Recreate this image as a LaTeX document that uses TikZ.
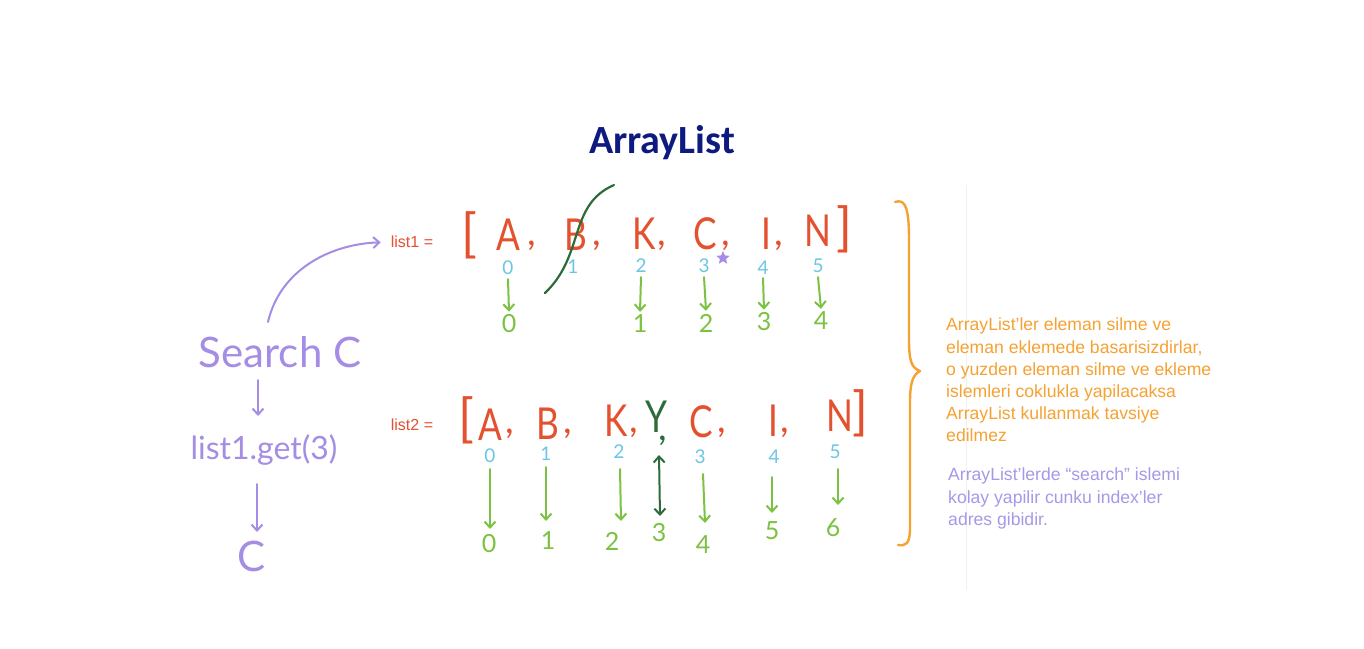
\documentclass[tikz,border=0pt]{standalone}
\usepackage{fontspec}
\setmainfont{Liberation Sans}
\newfontfamily\hand{Lato}
\newfontfamily\titlefont{Carlito}
\usetikzlibrary{arrows.meta,shapes.geometric}
\definecolor{hred}{HTML}{E4512F}
\definecolor{hblue}{HTML}{6DC6E3}
\definecolor{hgreen}{HTML}{7CC242}
\definecolor{hdgreen}{HTML}{2E6B3A}
\definecolor{hpurple}{HTML}{A58DE6}
\definecolor{horange}{HTML}{F5A233}
\definecolor{hnavy}{HTML}{0D1A80}
\definecolor{tpurple}{HTML}{A898E8}
\newcommand\nar[1]{\scalebox{0.8}[1]{#1}}
\tikzset{
  letter/.style={text=hred,font=\hand\fontsize{44}{44}\selectfont,inner sep=0pt},
  comma/.style={text=hred,font=\hand\fontsize{38}{38}\selectfont,inner sep=0pt},
  brack/.style={text=hred,font=\hand\fontsize{52}{52}\selectfont,inner sep=0pt},
  idx/.style={text=hblue,font=\hand\fontsize{19}{19}\selectfont,inner sep=0pt},
  gnum/.style={text=hgreen,font=\hand\fontsize{25}{25}\selectfont,inner sep=0pt},
  garrow/.style={draw=hgreen,line width=2pt,line cap=round,-{Straight Barb[length=6pt,width=11pt]}},
  parrow/.style={draw=hpurple,line width=2pt,line cap=round,-{Straight Barb[length=6pt,width=11pt]}},
  plab/.style={text=hpurple,font=\hand\fontsize{42}{42}\selectfont,inner sep=0pt},
  listlab/.style={text=hred,font=\fontsize{16}{16}\selectfont,inner sep=0pt},
}
\begin{document}
\begin{tikzpicture}[x=1pt,y=-1pt]
\useasboundingbox[fill=white] (0,0) rectangle (1364,648);
% faint line
\draw[color=black!6,line width=1pt] (966,185) -- (966,590);
% title
\node[text=hnavy,font=\titlefont\bfseries\fontsize{40}{40}\selectfont] (title) at (662,143) {ArrayList};
% list1
\node[listlab] (l1) at (412,242) {list1 =};
\node[brack] (b1o) at (469,235) {[};
\node[letter] (a1) at (508,235) {\nar{A}};
\node[comma] (c1a) at (532,246) {,};
\node[letter] (b1) at (576,235) {\nar{B}};
\node[comma] (c1b) at (597,246) {,};
\node[letter] (k1) at (644,234) {\nar{K}};
\node[comma] (c1k) at (662,246) {,};
\node[letter] (cc1) at (705,234) {\nar{C}};
\node[comma] (c1c) at (726,246) {,};
\node[letter] (i1) at (766,234) {\nar{I}};
\node[comma] (c1i) at (779,246) {,};
\node[letter] (n1) at (818,231) {\nar{N}};
\node[brack] (b1c) at (844,229) {]};
\node[idx] (x10) at (508,268) {0};
\node[idx] (x11) at (573,267) {1};
\node[idx] (x12) at (641,266) {2};
\node[idx] (x13) at (704,266) {3};
\node[idx] (x14) at (763,268) {4};
\node[idx] (x15) at (818,266) {5};
\node[star,star points=5,star point ratio=2.2,fill=hpurple,minimum size=14pt,inner sep=0pt] (star) at (723,258) {};
\node[gnum] (g10) at (509,324) {0};
\node[gnum] (g11) at (640,324) {1};
\node[gnum] (g12) at (706,323) {2};
\node[gnum] (g13) at (764,322) {3};
\node[gnum] (g14) at (821,321) {4};
\draw[garrow] ([yshift=-4pt]x10.south) -- ([yshift=3pt]g10.north);
\draw[garrow] ([yshift=-4pt]x12.south) -- ([yshift=3pt]g11.north);
\draw[garrow] ([yshift=-4pt]x13.south) -- ([yshift=3pt]g12.north);
\draw[garrow] ([yshift=-3pt]x14.south) -- ([yshift=3pt]g13.north);
\draw[garrow] ([yshift=-4pt]x15.south) -- ([yshift=3pt]g14.north);
% strike through B
\coordinate (s1) at (545,293);
\coordinate (s2) at (614,185);
\draw[draw=hdgreen,line width=2.2pt,line cap=round] (s1) .. controls (585,255) and (568,205) .. (s2);
% list2
\node[listlab] (l2) at (412,425) {list2 =};
\node[brack] (b2o) at (466,420) {[};
\node[letter] (a2) at (490,425) {\nar{A}};
\node[comma] (c2a) at (510,434) {,};
\node[letter] (b2) at (548,424) {\nar{B}};
\node[comma] (c2b) at (568,434) {,};
\node[letter] (k2) at (616,421) {\nar{K}};
\node[comma] (c2k) at (634,433) {,};
\node[letter,text=hdgreen] (y2) at (656,417) {\nar{Y}};
\node[comma,text=hdgreen] (c2y) at (663,441) {,};
\node[letter] (cc2) at (701,422) {\nar{C}};
\node[comma] (c2c) at (722,433) {,};
\node[letter] (i2) at (773,421) {\nar{I}};
\node[comma] (c2i) at (785,433) {,};
\node[letter] (n2) at (840,416) {\nar{N}};
\node[brack] (b2c) at (860,413) {]};
\node[idx] (x20) at (490,456) {0};
\node[idx] (x21) at (546,454) {1};
\node[idx] (x22) at (619,452) {2};
\node[idx] (x23) at (700,457) {3};
\node[idx] (x24) at (774,457) {4};
\node[idx] (x25) at (835,452) {5};
\node[gnum] (g20) at (489,544) {0};
\node[gnum] (g21) at (548,541) {1};
\node[gnum] (g22) at (612,541) {2};
\node[gnum] (g23) at (659,533) {3};
\node[gnum] (g24) at (703,545) {4};
\node[gnum] (g25) at (772,531) {5};
\node[gnum] (g26) at (833,528) {6};
\coordinate (t20) at (490,469); \coordinate (e20) at (490,529);
\coordinate (t21) at (546,467); \coordinate (e21) at (546,521);
\coordinate (t22) at (620,469); \coordinate (e22) at (621,521);
\coordinate (t24) at (703,474); \coordinate (e24) at (705,523);
\coordinate (t25) at (772,477); \coordinate (e25) at (772,513);
\coordinate (t26) at (838,469); \coordinate (e26) at (838,505);
\draw[garrow] (t20) -- (e20);
\draw[garrow] (t21) -- (e21);
\draw[garrow] (t22) -- (e22);
\draw[garrow] (t24) -- (e24);
\draw[garrow] (t25) -- (e25);
\draw[garrow] (t26) -- (e26);
\coordinate (yt) at (659,455); \coordinate (yb) at (660,516);
\draw[draw=hdgreen,line width=2pt,line cap=round,{Straight Barb[length=6pt,width=11pt]}-{Straight Barb[length=6pt,width=11pt]}] (yt) -- (yb);
% left side
\node[plab] (search) at (280,352) {Search C};
\node[plab,font=\hand\fontsize{32}{32}\selectfont] (get) at (264,450) {list1.get(3)};
\node[plab] (res) at (252,556) {C};
\coordinate (cs) at (268,322);
\coordinate (d1) at (258,380); \coordinate (d2) at (258,416);
\coordinate (d3) at (257,484); \coordinate (d4) at (257,532);
\draw[parrow,shorten >=10pt] (cs) .. controls (280,270) and (330,244) .. (l1.west);
\draw[parrow] (d1) -- (d2);
\draw[parrow] (d3) -- (d4);
% brace
\draw[horange,line width=2.4pt,line cap=round,line join=round]
  (895,202) .. controls (906,198) and (909,210) .. (909,240) -- (909,340)
  .. controls (909,362) and (912,368) .. (920,371)
  .. controls (912,375) and (910,385) .. (910,402) -- (910,528)
  .. controls (910,545) and (905,546) .. (898,545);
% texts
\node[anchor=north west,align=left,text=horange,font=\fontsize{17.6}{22.2}\selectfont,inner sep=0pt] (txt1) at (946,318)
 {ArrayList'ler eleman silme ve\\eleman eklemede basarisizdirlar,\\o yuzden eleman silme ve ekleme\\islemleri coklukla yapilacaksa\\ArrayList kullanmak tavsiye\\edilmez};
\node[anchor=north west,align=left,text=tpurple,font=\fontsize{17.6}{22.5}\selectfont,inner sep=0pt] (txt2) at (948,468)
 {ArrayList'lerde “search” islemi\\kolay yapilir cunku index'ler\\adres gibidir.};
\end{tikzpicture}
\end{document}
